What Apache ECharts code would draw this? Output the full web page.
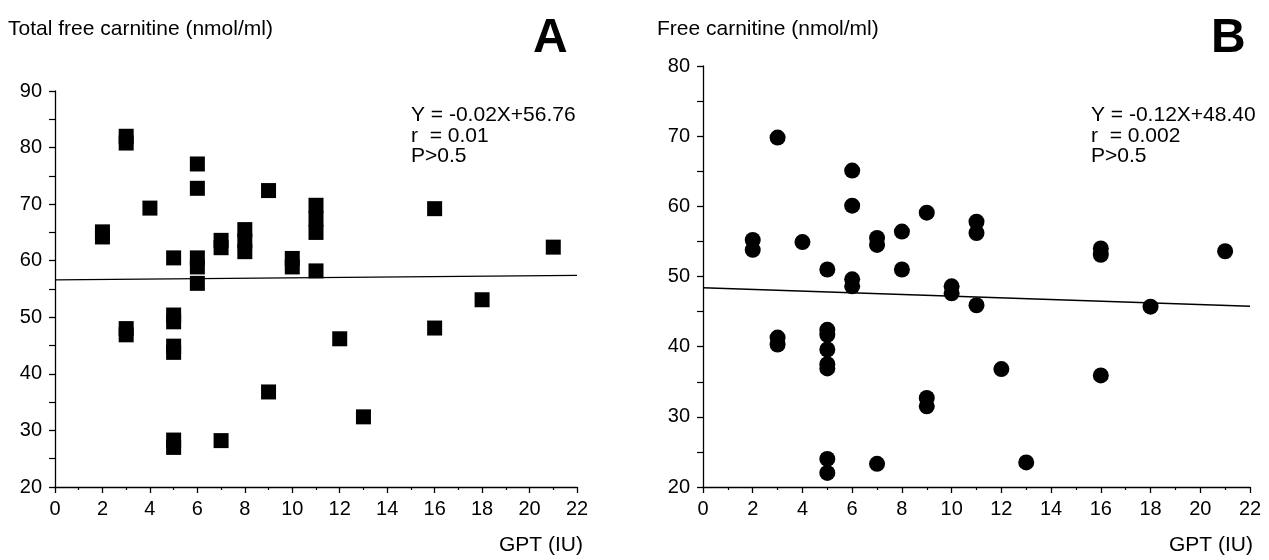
<!DOCTYPE html>
<html>
<head>
<meta charset="utf-8">
<script src="https://cdn.jsdelivr.net/npm/echarts@6/dist/echarts.min.js"></script>
<style>
html, body { margin: 0; padding: 0; background: #fff; }
#main { width: 1269px; height: 560px; }
</style>
</head>
<body>
<div id="main"></div>
<script>
// panel A: total free carnitine vs GPT
var gptA = [2, 2, 3, 3, 3, 3, 4, 5, 5, 5, 5, 5, 5, 5, 6, 6, 6, 6, 6, 7, 7, 7, 8, 8, 8, 9, 9, 10, 10, 11, 11, 11, 11, 12, 13, 16, 16, 18, 21];
var totalCarn = [65.1, 64.2, 82.0, 80.8, 48.0, 46.9, 69.3, 60.5, 50.4, 49.2, 44.9, 43.8, 28.3, 27.0, 77.1, 72.8, 60.5, 58.9, 56.0,
    63.6, 62.3, 28.2, 65.5, 63.5, 61.6, 72.4, 36.8, 60.4, 58.9, 69.8, 67.4, 65.0, 58.2, 46.2, 32.4, 69.2, 48.1, 53.1, 62.4];
var fitAX = [0, 22];
var fitAY = [56.6, 57.4];

// panel B: free carnitine vs GPT
var gptB = [2, 2, 3, 3, 3, 4, 5, 5, 5, 5, 5, 5, 5, 5, 6, 6, 6, 6, 7, 7, 7, 8, 8, 9, 9, 9, 10, 10, 11, 11, 11, 12, 13, 16, 16, 16, 18, 21];
var freeCarn = [55.2, 53.8, 69.8, 41.3, 40.3, 54.9, 51.0, 42.4, 41.7, 39.6, 37.5, 36.9, 24.0, 22.0, 65.1, 60.1, 49.6, 48.6,
    55.5, 54.5, 23.3, 56.4, 51.0, 59.1, 32.7, 31.5, 48.6, 47.6, 57.8, 56.2, 45.9, 36.8, 23.5, 54.0, 53.1, 35.9, 45.7, 53.6];
var fitBX = [0, 22];
var fitBY = [48.40, 45.76];

var xTicks = [0, 22, 2];   // min, max, interval
var yTicksA = [20, 90, 10];
var yTicksB = [20, 80, 10];

var FONT = "'Liberation Sans', Arial, sans-serif";

function pairs(xs, ys) {
    var out = [];
    for (var i = 0; i < xs.length; i++) out.push([xs[i], ys[i]]);
    return out;
}

function xAxisCfg(idx) {
    return {
        gridIndex: idx, type: 'value',
        min: xTicks[0], max: xTicks[1], interval: xTicks[2],
        axisLine: { onZero: false, lineStyle: { color: '#000', width: 1.3 } },
        axisTick: { inside: false, length: 6, lineStyle: { color: '#000', width: 1.3 } },
        minorTick: { show: true, splitNumber: 2, length: 3, lineStyle: { color: '#000', width: 1.2 } },
        axisLabel: { color: '#000', fontSize: 20, fontFamily: FONT, margin: 12 },
        splitLine: { show: false }
    };
}

function yAxisCfg(idx, t) {
    return {
        gridIndex: idx, type: 'value',
        min: t[0], max: t[1], interval: t[2],
        axisLine: { show: true, onZero: false, lineStyle: { color: '#000', width: 1.3 } },
        axisTick: { show: true, length: 6, lineStyle: { color: '#000', width: 1.3 } },
        minorTick: { show: true, splitNumber: 2, length: 6, lineStyle: { color: '#000', width: 1.2 } },
        axisLabel: { color: '#000', fontSize: 20, fontFamily: FONT, margin: 13 },
        splitLine: { show: false }
    };
}

function txt(pos, s, size, bold) {
    var el = {
        type: 'text',
        style: { text: s, fill: '#000', font: (bold ? 'bold ' : '') + size + 'px ' + FONT, lineHeight: 20.5 }
    };
    for (var k in pos) el[k] = pos[k];
    return el;
}

var chart = echarts.init(document.getElementById('main'));
var option = {
    animation: false,
    backgroundColor: '#fff',
    grid: [
        { left: 55, right: 692, top: 91, bottom: 73 },
        { left: 703, right: 19, top: 66, bottom: 73 }
    ],
    xAxis: [xAxisCfg(0), xAxisCfg(1)],
    yAxis: [yAxisCfg(0, yTicksA), yAxisCfg(1, yTicksB)],
    graphic: [
        txt({ left: 8, top: 19 }, 'Total free carnitine (nmol/ml)', 21),
        txt({ left: 533, top: 15 }, 'A', 48, true),
        txt({ left: 411, top: 105 }, 'Y = -0.02X+56.76\nr  = 0.01\nP>0.5', 21),
        txt({ right: 686, top: 535 }, 'GPT (IU)', 21),
        txt({ left: 657, top: 19 }, 'Free carnitine (nmol/ml)', 21),
        txt({ left: 1211, top: 15 }, 'B', 48, true),
        txt({ left: 1091, top: 105 }, 'Y = -0.12X+48.40\nr  = 0.002\nP>0.5', 21),
        txt({ right: 16, top: 535 }, 'GPT (IU)', 21)
    ],
    series: [
        {
            type: 'line', xAxisIndex: 0, yAxisIndex: 0,
            data: pairs(fitAX, fitAY), symbol: 'none', silent: true,
            lineStyle: { color: '#000', width: 1.3 }, z: 1
        },
        {
            type: 'scatter', xAxisIndex: 0, yAxisIndex: 0,
            data: pairs(gptA, totalCarn), symbol: 'rect', symbolSize: 15,
            itemStyle: { color: '#000', opacity: 1 }, z: 2
        },
        {
            type: 'line', xAxisIndex: 1, yAxisIndex: 1,
            data: pairs(fitBX, fitBY), symbol: 'none', silent: true,
            lineStyle: { color: '#000', width: 1.3 }, z: 1
        },
        {
            type: 'scatter', xAxisIndex: 1, yAxisIndex: 1,
            data: pairs(gptB, freeCarn), symbol: 'circle', symbolSize: 16,
            itemStyle: { color: '#000', opacity: 1 }, z: 2
        }
    ]
};
chart.setOption(option);
</script>
</body>
</html>
